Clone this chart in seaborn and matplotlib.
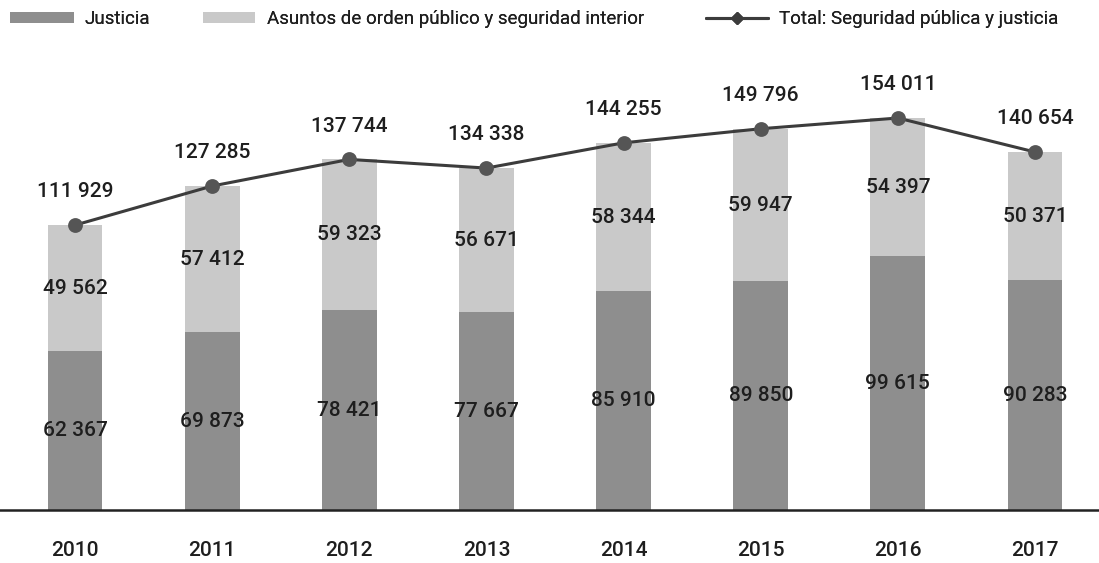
import matplotlib
matplotlib.use("Agg")
import matplotlib.pyplot as plt
import seaborn as sns
from matplotlib.patches import Patch
from matplotlib.lines import Line2D
from matplotlib import font_manager

years = ["2010", "2011", "2012", "2013", "2014", "2015", "2016", "2017"]
justicia = [62367, 69873, 78421, 77667, 85910, 89850, 99615, 90283]
orden_publico = [49562, 57412, 59323, 56671, 58344, 59947, 54397, 50371]
total = [111929, 127285, 137744, 134338, 144255, 149796, 154011, 140654]

c_just = "#8e8e8e"
c_orden = "#c9c9c9"
c_line = "#3c3c3c"
c_mark = "#555555"

sns.set_theme(style="white")
names = {f.name for f in font_manager.fontManager.ttflist}
fam = [n for n in ["Roboto", "Open Sans"] if n in names] + ["DejaVu Sans"]
plt.rcParams['font.family'] = fam

fig = plt.figure(figsize=(10.99, 5.63), dpi=100)
ax = fig.add_axes([0.0, 53 / 563, 1.0, 450 / 563])

sns.barplot(x=years, y=justicia, color=c_just, width=0.4, ax=ax, saturation=1, linewidth=0)
sns.barplot(x=years, y=orden_publico, bottom=justicia, color=c_orden, width=0.4, ax=ax, saturation=1,
            linewidth=0)
sns.pointplot(x=years, y=total, color=c_line, markers="o", linestyles="-", ax=ax,
              markersize=9, linewidth=2.2)
for ln in ax.lines:
    ln.set_markerfacecolor(c_mark)
    ln.set_markeredgecolor(c_mark)

def fmt(v):
    return f"{v:,}".replace(",", " ")

tc = "#1e1e1e"
for i in range(len(years)):
    ax.text(i, justicia[i] / 2, fmt(justicia[i]), ha="center", va="center", fontsize=15, color=tc,
            fontweight="medium")
    ax.text(i, justicia[i] + orden_publico[i] / 2, fmt(orden_publico[i]), ha="center", va="center",
            fontsize=15, color=tc, fontweight="medium")
    ax.annotate(fmt(total[i]), (i, total[i]), xytext=(0, 24), textcoords="offset points",
                ha="center", va="center", fontsize=15, color=tc, fontweight="medium")

ax.set_xlim(-0.547, 7.467)
ax.set_ylim(0, 176800)
ax.set_yticks([])
ax.set_ylabel("")
for s in ["left", "right", "top"]:
    ax.spines[s].set_visible(False)
ax.spines["bottom"].set_color("#222222")
ax.spines["bottom"].set_linewidth(1.8)
ax.tick_params(axis="x", length=0, pad=22, labelsize=15, colors=tc)
for t in ax.get_xticklabels():
    t.set_fontweight("medium")

handles = [
    Patch(facecolor=c_just, edgecolor="none"),
    Patch(facecolor=c_orden, edgecolor="none"),
    Line2D([0], [0], color=c_line, lw=2.2, marker="D", markersize=6, markerfacecolor=c_line),
]
labels = ["Justicia", "Asuntos de orden público y seguridad interior", "Total: Seguridad pública y justicia"]
xpos = [10, 203, 706]
hlen = [3.4, 2.8, 3.3]
for h, l, x, hl in zip(handles, labels, xpos, hlen):
    leg = fig.legend([h], [l], loc="upper left", bbox_to_anchor=(x / 1099, 1 - 10 / 563), frameon=False,
                     fontsize=13.5, handlelength=hl, handleheight=0.55, handletextpad=0.6,
                     borderpad=0, borderaxespad=0, labelcolor=tc)
    fig.add_artist(leg)

fig.savefig("out.png", dpi=100)
